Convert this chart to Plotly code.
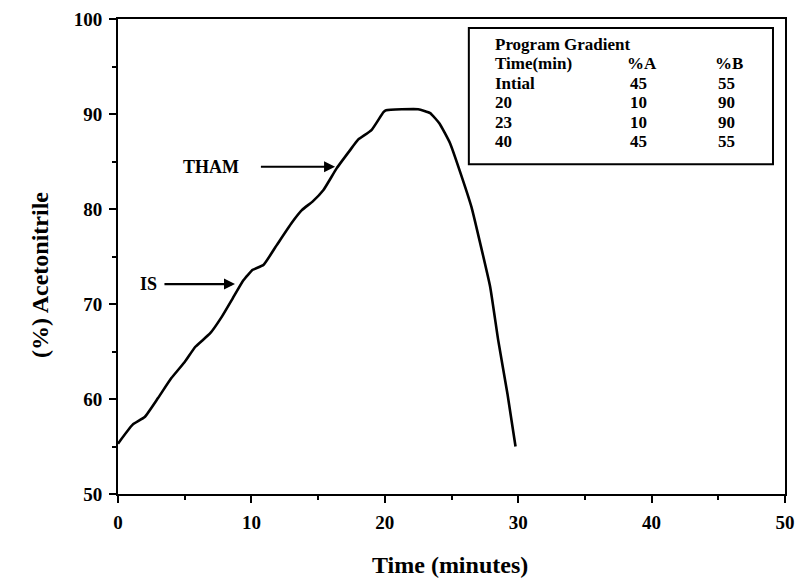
import plotly.graph_objects as go

# ---- data ----
time_min = [0, 1.1, 2.0, 3.0, 4.0, 5.0, 5.8, 6.9, 7.8, 8.6, 9.4, 10.1, 10.9, 11.9,
            13.0, 13.8, 14.6, 15.4, 16.4, 17.4, 18.0, 19.0, 19.9, 20.1, 22.5, 23.4,
            24.1, 24.9, 25.6, 26.5, 27.1, 27.9, 28.5, 29.2, 29.8]
acetonitrile = [55.3, 57.3, 58.1, 60.1, 62.2, 63.9, 65.5, 66.9, 68.7, 70.6, 72.5, 73.6,
                74.1, 76.2, 78.5, 79.9, 80.8, 82.0, 84.3, 86.2, 87.3, 88.3, 90.2, 90.4,
                90.5, 90.1, 89.0, 86.9, 84.1, 80.2, 76.7, 71.8, 66.2, 60.5, 55.0]

x_ticks = [0, 10, 20, 30, 40, 50]
y_ticks = [50, 60, 70, 80, 90, 100]

table_title = "Program Gradient"
table_header = ["Time(min)", "%A", "%B"]
table_time = ["Intial", "20", "23", "40"]
table_a = ["45", "10", "10", "45"]
table_b = ["55", "90", "90", "55"]

arrow_labels = ["IS", "THAM"]
arrow_tip_x = [8.77, 16.27]
arrow_tail_x = [3.37, 10.6]
arrow_y = [72.1, 84.45]
arrow_label_x = [2.3, 6.97]

FONT = "Liberation Serif"

fig = go.Figure()
fig.add_trace(go.Scatter(
    x=time_min, y=acetonitrile, mode="lines",
    line=dict(color="black", width=2.6, shape="spline", smoothing=0.4),
    showlegend=False, hoverinfo="skip"))

axis_common = dict(
    showline=True, linecolor="black", linewidth=2, mirror=True,
    ticks="outside", ticklen=7, tickwidth=2, tickcolor="black",
    showgrid=False, zeroline=False, ticklabelstandoff=3,
    tickfont=dict(family=FONT, size=19, color="black", weight="bold"),
    minor=dict(ticks="outside", ticklen=4, tickwidth=1.5, tickcolor="black", dtick=5),
)

fig.update_xaxes(range=[0, 50], tickvals=x_ticks, **axis_common)
fig.update_yaxes(range=[50, 100], tickvals=y_ticks, **axis_common)

tfont_title = dict(family=FONT, size=24, color="black", weight="bold")
annotations = [
    dict(x=0.498, y=-0.149, xref="paper", yref="paper", text="Time (minutes)",
         showarrow=False, xanchor="center", yanchor="middle", font=tfont_title),
    dict(x=-0.117, y=0.461, xref="paper", yref="paper", text="(%) Acetonitrile",
         textangle=-90, showarrow=False, xanchor="center", yanchor="middle", font=tfont_title),
]
# arrows with labels
for lab, tx, sx, yy, lx in zip(arrow_labels, arrow_tip_x, arrow_tail_x, arrow_y, arrow_label_x):
    annotations.append(dict(x=tx, y=yy, ax=sx, ay=yy, xref="x", yref="y", axref="x", ayref="y",
                            text="", showarrow=True, arrowhead=2, arrowsize=1.0,
                            arrowwidth=2.2, arrowcolor="black"))
    annotations.append(dict(x=lx, y=yy, xref="x", yref="y", text=lab, showarrow=False,
                            font=dict(family=FONT, size=18, color="black", weight="bold"),
                            xanchor="center", yanchor="middle"))

# gradient table (text inside a box)
row_y = [97.35, 95.3, 93.25, 91.2, 89.15, 87.1]
col_x = [28.2, 38.3, 44.9]
tfont = dict(family=FONT, size=17, color="black", weight="bold")
annotations.append(dict(x=col_x[0], y=row_y[0], xref="x", yref="y", text=table_title,
                        showarrow=False, xanchor="left", yanchor="middle", font=tfont,
                        borderpad=0))
for j, h in enumerate(table_header):
    annotations.append(dict(x=col_x[j] - (0.2 if j else 0), y=row_y[1], xref="x", yref="y", text=h,
                            showarrow=False, xanchor="left", yanchor="middle", font=tfont,
                            borderpad=0))
for i in range(len(table_time)):
    for j, v in enumerate([table_time[i], table_a[i], table_b[i]]):
        annotations.append(dict(x=col_x[j], y=row_y[i + 2], xref="x", yref="y", text=v,
                                showarrow=False, xanchor="left", yanchor="middle", font=tfont,
                                borderpad=0))

fig.add_shape(type="rect", xref="x", yref="y", x0=26.3, x1=49.1, y0=84.7, y1=99.05,
              line=dict(color="black", width=2), fillcolor="rgba(0,0,0,0)")

fig.update_layout(
    width=796, height=585,
    margin=dict(l=118, r=11, t=19, b=91, autoexpand=False),
    paper_bgcolor="white", plot_bgcolor="white",
    annotations=annotations,
    font=dict(family=FONT, color="black"),
)

fig.write_html("out.html", config={"displayModeBar": False},
               post_script="document.body.style.margin='0';document.body.style.overflow='hidden';")
